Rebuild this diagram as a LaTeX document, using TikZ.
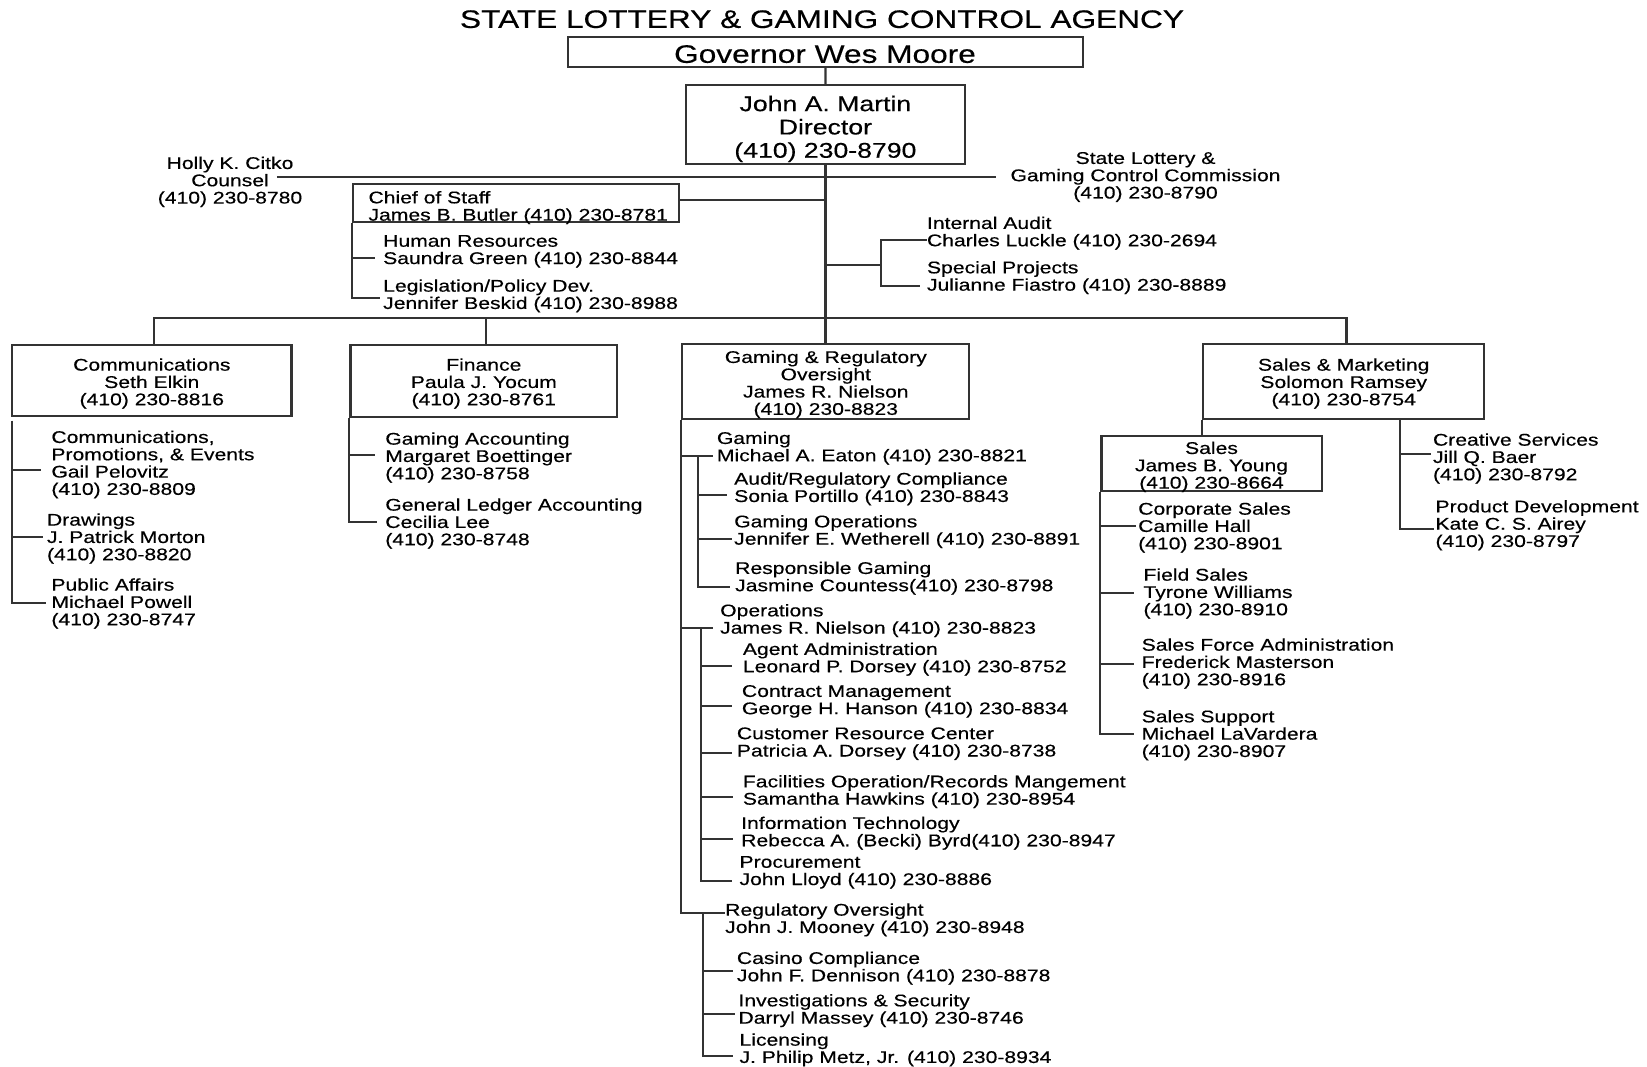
\documentclass[tikz,border=0pt]{standalone}
\usepackage{fontspec}
\setmainfont{Liberation Sans}[FakeStretch=1.25,FakeBold=0.4]
\newcommand\myfS{\fontsize{16.9}{17.3}\selectfont\lineskiplimit=-40pt\lineskip=0pt}
\newcommand\myfD{\fontsize{21.3}{23.3}\selectfont\lineskiplimit=-40pt\lineskip=0pt}
\newcommand\myfT{\fontsize{25.3}{28}\selectfont}
\begin{document}
\begin{tikzpicture}[x=1pt,y=-1pt,
  ln/.style={draw=black!80,line width=2.2pt},
  obox/.style={draw=black!80,line width=2.2pt,rectangle,inner sep=0pt},
  tl/.style={inner sep=0pt,font=\myfS,align=left,anchor=north west,text=black},
  tc/.style={inner sep=0pt,font=\myfS,align=center,anchor=north,text=black},
  td/.style={inner sep=0pt,font=\myfD,align=center,anchor=north,text=black},
  hdr/.style={inner sep=0pt,font=\myfT,anchor=center,text=black}]
\useasboundingbox (0,0) rectangle (1647,1067);

% ---- top
\node[hdr] (title) at (822,19.2) {STATE LOTTERY \& GAMING CONTROL AGENCY};
\node[obox,minimum width=515.2pt,minimum height=30pt] (gov) at (825.4,51.7) {};
\node[hdr] (govt) at (825,54.1) {Governor Wes Moore};
\node[obox,minimum width=279.5pt,minimum height=79.3pt] (dir) at (825.45,124.65) {};
\node[td] (dirt) at (825.4,95.5) {John A. Martin\\Director\\(410) 230-8790};

\node[tc] (holly) at (230,156.5) {Holly K. Citko\\Counsel\\(410) 230-8780};
\node[tc] (comm) at (1145.5,151.9) {State Lottery \&\\Gaming Control Commission\\(410) 230-8790};

\node[obox,minimum width=325.9pt,minimum height=37.4pt] (cos) at (515.65,203) {};
\node[tl] (cost) at (368.3,190.9) {Chief of Staff\\James B. Butler (410) 230-8781};
\node[tl] (hr) at (383,234.9) {Human Resources\\Saundra Green (410) 230-8844};
\node[tl] (leg) at (383,279.2) {Legislation/Policy Dev.\\Jennifer Beskid (410) 230-8988};
\node[tl] (ia) at (926.8,216.5) {Internal Audit\\Charles Luckle (410) 230-2694};
\node[tl] (sp) at (926.8,260.9) {Special Projects\\Julianne Fiastro (410) 230-8889};

% ---- division boxes
\node[obox,minimum width=279.3pt,minimum height=71pt] (com) at (151.75,380.5) {};
\node[tc] (comt) at (151.8,358.2) {Communications\\Seth Elkin\\(410) 230-8816};
\node[obox,minimum width=266.8pt,minimum height=72.3pt] (fin) at (483.8,381.15) {};
\node[tc] (fint) at (483.8,358.2) {Finance\\Paula J. Yocum\\(410) 230-8761};
\node[obox,minimum width=287pt,minimum height=75pt] (gam) at (825.8,381.5) {};
\node[tc] (gamt) at (825.8,350.5) {Gaming \& Regulatory\\Oversight\\James R. Nielson\\(410) 230-8823};
\node[obox,minimum width=281.3pt,minimum height=75pt] (sm) at (1343.65,381.5) {};
\node[tc] (smt) at (1343.7,358.2) {Sales \& Marketing\\Solomon Ramsey\\(410) 230-8754};
\node[obox,minimum width=220.2pt,minimum height=55pt] (sal) at (1211.5,463.5) {};
\node[tc] (salt) at (1211.5,441.5) {Sales\\James B. Young\\(410) 230-8664};

% ---- sub units
\node[tl] (cpe) at (51.2,430.5) {Communications,\\Promotions, \& Events\\Gail Pelovitz\\(410) 230-8809};
\node[tl] (drw) at (46.8,513.2) {Drawings\\J. Patrick Morton\\(410) 230-8820};
\node[tl] (pa) at (51.2,578.2) {Public Affairs\\Michael Powell\\(410) 230-8747};
\node[tl] (ga) at (385.1,432.2) {Gaming Accounting\\Margaret Boettinger\\(410) 230-8758};
\node[tl] (gl) at (385.1,498.2) {General Ledger Accounting\\Cecilia Lee\\(410) 230-8748};

\node[tl] (gmg) at (716.7,431.5) {Gaming\\Michael A. Eaton (410) 230-8821};
\node[tl] (arc) at (734,472.2) {Audit/Regulatory Compliance\\Sonia Portillo (410) 230-8843};
\node[tl] (gop) at (734,514.9) {Gaming Operations\\Jennifer E. Wetherell (410) 230-8891};
\node[tl] (rg) at (735,561.5) {Responsible Gaming\\Jasmine Countess(410) 230-8798};
\node[tl] (ops) at (720,603.9) {Operations\\James R. Nielson (410) 230-8823};
\node[tl] (aga) at (742.7,642.5) {Agent Administration\\Leonard P. Dorsey (410) 230-8752};
\node[tl] (cm) at (741.7,684.9) {Contract Management\\George H. Hanson (410) 230-8834};
\node[tl] (crc) at (736.7,727.2) {Customer Resource Center\\Patricia A. Dorsey (410) 230-8738};
\node[tl] (fac) at (742.7,774.9) {Facilities Operation/Records Mangement\\Samantha Hawkins (410) 230-8954};
\node[tl] (it) at (741,816.5) {Information Technology\\Rebecca A. (Becki) Byrd(410) 230-8947};
\node[tl] (pro) at (739.3,855.9) {Procurement\\John Lloyd (410) 230-8886};
\node[tl] (reg) at (725,903.2) {Regulatory Oversight\\John J. Mooney (410) 230-8948};
\node[tl] (cc) at (736.7,951.5) {Casino Compliance\\John F. Dennison (410) 230-8878};
\node[tl] (inv) at (738.3,993.9) {Investigations \& Security\\Darryl Massey (410) 230-8746};
\node[tl] (lic) at (739.3,1033.2) {Licensing\\J. Philip Metz, Jr. (410) 230-8934};

\node[tl] (cps) at (1138,502.2) {Corporate Sales\\Camille Hall\\(410) 230-8901};
\node[tl] (fs) at (1143.3,568.2) {Field Sales\\Tyrone Williams\\(410) 230-8910};
\node[tl] (sfa) at (1141.5,638.2) {Sales Force Administration\\Frederick Masterson\\(410) 230-8916};
\node[tl] (ss) at (1141.5,709.9) {Sales Support\\Michael LaVardera\\(410) 230-8907};
\node[tl] (crs) at (1432.8,433.2) {Creative Services\\Jill Q. Baer\\(410) 230-8792};
\node[tl] (pd) at (1435.3,499.9) {Product Development\\Kate C. S. Airey\\(410) 230-8797};

% ---- connector points
\coordinate (cl-a) at (276.8,177.3);
\coordinate (cl-b) at (996,177.3);
\coordinate (cos-j) at (825.4,200);
\coordinate (hr-in) at (375,258.3);
\coordinate (leg-in) at (379.5,298.3);
\coordinate (iasp-j) at (880.8,265);
\coordinate (ia-in) at (926.8,240);
\coordinate (sp-in) at (920,285.7);
\coordinate (bus-l) at (154,318.3);
\coordinate (bus-f) at (485.7,318.3);
\coordinate (bus-r) at (1346.4,318.3);
\coordinate (com-s) at (12.1,420.7);
\coordinate (cpe-in) at (41.2,470);
\coordinate (drw-in) at (43.4,537.3);
\coordinate (pa-in) at (45.5,603.3);
\coordinate (ga-in) at (375.2,455);
\coordinate (gl-in) at (377.3,522.3);
\coordinate (gmg-in) at (713.3,456);
\coordinate (gs-top) at (698.3,456);
\coordinate (arc-in) at (727.3,495);
\coordinate (gop-in) at (731.7,539);
\coordinate (rg-in) at (730,587.3);
\coordinate (ops-in) at (713.3,627.7);
\coordinate (os-top) at (700.7,627.7);
\coordinate (aga-in) at (731.7,666);
\coordinate (cm-in) at (731.7,706);
\coordinate (crc-in) at (731.7,752.7);
\coordinate (fac-in) at (733.3,797.3);
\coordinate (it-in) at (733.3,839.3);
\coordinate (pro-in) at (731.7,880.7);
\coordinate (reg-in) at (725,912.7);
\coordinate (rs-top) at (702.7,912.7);
\coordinate (cc-in) at (733.3,970.7);
\coordinate (inv-in) at (735,1014);
\coordinate (lic-in) at (733.3,1056);
\coordinate (cps-in) at (1136,526);
\coordinate (fs-in) at (1134.4,593.3);
\coordinate (sfa-in) at (1134,664);
\coordinate (ss-in) at (1134.4,734);
\coordinate (cp-top) at (1399.7,419);
\coordinate (crs-in) at (1431,454);
\coordinate (pd-in) at (1433.8,529.3);

% ---- connectors
\draw[ln] (gov.south) -- (dir.north);
\draw[ln] (dir.south) -- (dir.south |- gam.north);
\draw[ln] (cl-a) -- (cl-b);
\draw[ln] (cos.east |- cos-j) -- (cos-j);
\draw[ln] (cos.south west) |- (leg-in);
\draw[ln] (cos.south west |- hr-in) -- (hr-in);
\draw[ln] (dir.south |- iasp-j) -- (iasp-j);
\draw[ln] (ia-in) -| (iasp-j) |- (sp-in);
\draw[ln] (bus-l |- com.north) -- (bus-l) -- (bus-r) -- (bus-r |- sm.north);
\draw[ln] (bus-f) -- (bus-f |- fin.north);

\draw[ln] (com-s) |- (pa-in);
\draw[ln] (com-s |- cpe-in) -- (cpe-in);
\draw[ln] (com-s |- drw-in) -- (drw-in);
\draw[ln] (fin.south west) |- (gl-in);
\draw[ln] (fin.south west |- ga-in) -- (ga-in);

\draw[ln] (gam.south west) |- (reg-in);
\draw[ln] (gam.south west |- gmg-in) -- (gmg-in);
\draw[ln] (gam.south west |- ops-in) -- (ops-in);
\draw[ln] (gs-top) |- (rg-in);
\draw[ln] (gs-top |- arc-in) -- (arc-in);
\draw[ln] (gs-top |- gop-in) -- (gop-in);
\draw[ln] (os-top) |- (pro-in);
\draw[ln] (os-top |- aga-in) -- (aga-in);
\draw[ln] (os-top |- cm-in) -- (cm-in);
\draw[ln] (os-top |- crc-in) -- (crc-in);
\draw[ln] (os-top |- fac-in) -- (fac-in);
\draw[ln] (os-top |- it-in) -- (it-in);
\draw[ln] (rs-top) |- (lic-in);
\draw[ln] (rs-top |- cc-in) -- (cc-in);
\draw[ln] (rs-top |- inv-in) -- (inv-in);

\draw[ln] (sm.south west) -- (sm.south west |- sal.north);
\draw[ln] (sal.south west) |- (ss-in);
\draw[ln] (sal.south west |- cps-in) -- (cps-in);
\draw[ln] (sal.south west |- fs-in) -- (fs-in);
\draw[ln] (sal.south west |- sfa-in) -- (sfa-in);
\draw[ln] (cp-top) |- (pd-in);
\draw[ln] (cp-top |- crs-in) -- (crs-in);
\end{tikzpicture}
\end{document}
